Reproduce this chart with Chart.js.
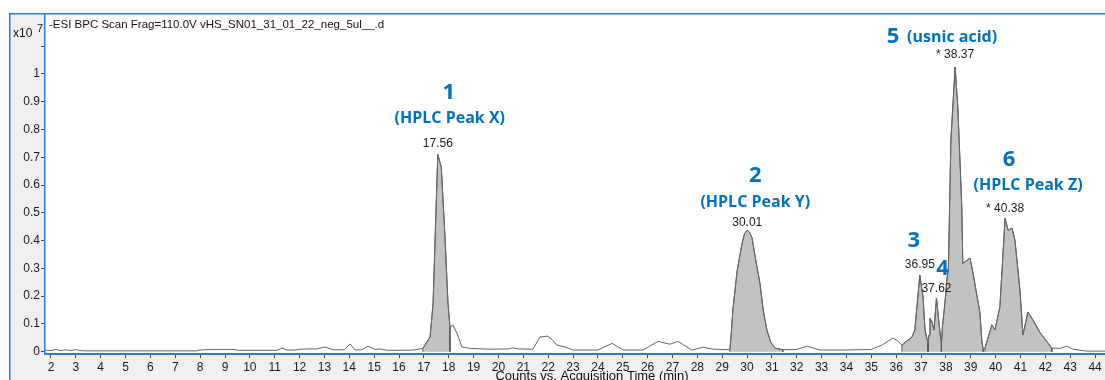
<!DOCTYPE html>
<html>
<head>
<meta charset="utf-8">
<script src="https://cdn.jsdelivr.net/npm/chart.js@4.4.1/dist/chart.umd.min.js"></script>
<style>
  html, body { margin: 0; padding: 0; background: #fff; }
  canvas { display: block; }
</style>
</head>
<body>
<canvas id="bpcChart" width="1105" height="380"></canvas>
<script>
// BPC trace: retention time (min) and counts (x10^7)
const retentionTimes = [
  1.76, 2.0, 2.2, 2.4, 2.6, 2.8, 3.0, 3.15, 3.5, 7.87,
  7.95, 8.48, 9.4, 9.5, 11.1, 11.29, 11.49, 11.8, 12.02, 12.4,
  12.7, 13.02, 13.34, 13.8, 14.03, 14.23, 14.5, 14.75, 15.03, 15.23,
  15.5, 16.04, 16.6, 16.96, 17.25, 17.37, 17.56, 17.7, 17.85, 17.97,
  18.05, 18.17, 18.33, 18.53, 18.85, 19.66, 20.4, 20.58, 20.8, 21.39,
  21.67, 21.99, 22.15, 22.35, 22.68, 23.0, 24.0, 24.57, 25.01, 25.81,
  26.42, 26.9, 27.22, 27.78, 28.23, 28.63, 29.31, 29.37, 29.43, 29.6,
  29.8, 29.9, 30.01, 30.1, 30.2, 30.35, 30.52, 30.65, 30.8, 30.95,
  31.12, 31.44, 32.0, 32.41, 32.93, 34.0, 35.0, 35.43, 35.87, 36.05,
  36.23, 36.45, 36.63, 36.75, 36.95, 37.08, 37.16, 37.28, 37.32, 37.36,
  37.44, 37.52, 37.62, 37.76, 37.82, 37.86, 37.96, 38.04, 38.1, 38.2,
  38.37, 38.48, 38.64, 38.68, 38.97, 39.09, 39.37, 39.45, 39.5, 39.57,
  39.85, 39.97, 40.17, 40.38, 40.5, 40.66, 40.78, 40.98, 41.1, 41.3,
  41.5, 41.78, 42.26, 42.6, 42.87, 43.11, 43.67, 44.4
];
const bpcCounts = [
  0.006, 0.004, 0.008, 0.004, 0.007, 0.004, 0.008, 0.004, 0.003, 0.003,
  0.006, 0.008, 0.008, 0.005, 0.005, 0.013, 0.006, 0.006, 0.009, 0.010,
  0.010, 0.017, 0.007, 0.007, 0.028, 0.006, 0.007, 0.020, 0.008, 0.010,
  0.005, 0.005, 0.006, 0.012, 0.053, 0.174, 0.710, 0.665, 0.412, 0.174,
  0.088, 0.096, 0.067, 0.017, 0.012, 0.009, 0.010, 0.014, 0.010, 0.009,
  0.053, 0.056, 0.044, 0.024, 0.017, 0.006, 0.006, 0.030, 0.006, 0.006,
  0.037, 0.027, 0.037, 0.006, 0.016, 0.009, 0.007, 0.070, 0.150, 0.290,
  0.390, 0.425, 0.437, 0.430, 0.410, 0.330, 0.246, 0.150, 0.078, 0.035,
  0.013, 0.007, 0.008, 0.020, 0.006, 0.006, 0.008, 0.024, 0.049, 0.040,
  0.024, 0.040, 0.052, 0.078, 0.276, 0.197, 0.078, 0.030, 0.060, 0.120,
  0.108, 0.078, 0.193, 0.070, 0.030, 0.090, 0.174, 0.260, 0.300, 0.760,
  1.025, 0.880, 0.520, 0.318, 0.337, 0.283, 0.140, 0.032, 0.010, 0.012,
  0.097, 0.078, 0.160, 0.480, 0.437, 0.445, 0.400, 0.220, 0.060, 0.143,
  0.114, 0.070, 0.013, 0.012, 0.020, 0.009, 0.002, 0.002
];

// integrated (shaded) windows, min
const integrationStarts = [16.96, 29.31, 36.23, 37.28, 37.82, 39.57];
const integrationEnds   = [18.05, 31.44, 37.28, 37.82, 39.5, 42.26];

// labelled peaks
const peakTimes = [17.56, 30.01, 36.95, 37.62, 38.37, 40.38];
const peakLabels = ['17.56', '30.01', '36.95', '37.62', '* 38.37', '* 40.38'];
const compoundNumbers = ['1', '2', '3', '4', '5', '6'];
const compoundNames = ['(HPLC Peak X)', '(HPLC Peak Y)', '', '', '(usnic acid)', '(HPLC Peak Z)'];

// axes
const xTickValues = [2, 3, 4, 5, 6, 7, 8, 9, 10, 11, 12, 13, 14, 15, 16, 17, 18, 19, 20, 21, 22,
  23, 24, 25, 26, 27, 28, 29, 30, 31, 32, 33, 34, 35, 36, 37, 38, 39, 40, 41, 42, 43, 44];
const yTickValues = [0, 0.1, 0.2, 0.3, 0.4, 0.5, 0.6, 0.7, 0.8, 0.9, 1, 1.1];
const yTickLabels = ['0', '0.1', '0.2', '0.3', '0.4', '0.5', '0.6', '0.7', '0.8', '0.9', '1', ''];

const headerText = '-ESI BPC Scan Frag=110.0V vHS_SN01_31_01_22_neg_5ul__.d';
const xAxisTitle = 'Counts vs. Acquisition Time (min)';

const tracePoints = retentionTimes.map((t, i) => ({ x: t, y: bpcCounts[i] }));

// shaded areas: trace points inside each window, dropped to zero at the edges
const fillPoints = [];
integrationStarts.forEach((start, k) => {
  const end = integrationEnds[k];
  fillPoints.push({ x: start, y: 0 });
  tracePoints.forEach(p => { if (p.x >= start && p.x <= end) fillPoints.push(p); });
  fillPoints.push({ x: end, y: 0 });
  fillPoints.push({ x: end, y: null });
});

const BLUE = '#0070c0';
const FRAME = '#2f7bd6';
const SANS = '"Liberation Sans", Arial, sans-serif';
const LABEL_FONT = '"Open Sans", Lato, sans-serif';

// pixel offsets from each apex: rt label dy, number dx/dy, name dx/dy
const labelOffsets = [
  [-11, 11, -62, 12, -36],
  [-8, 8, -55, 8, -28],
  [-10, -6, -34, 0, 0],
  [-9, 6, -29, 0, 0],
  [-12, -62, -30, -3, -30],
  [-10, 4, -59, 23, -33]
];

const chromPlugin = {
  id: 'chromFrame',
  beforeDraw(chart) {
    const { ctx, chartArea: a, width, height } = chart;
    ctx.save();
    ctx.fillStyle = '#ffffff';
    ctx.fillRect(0, 0, width, height);
    ctx.fillStyle = '#f0f0f0';
    ctx.fillRect(10, a.top, a.left - 10, height - a.top);
    ctx.fillRect(10, a.bottom, width - 10, height - a.bottom);
    ctx.restore();
  },
  afterDatasetsDraw(chart) {
    const { ctx } = chart;
    const xs = chart.scales.x, ys = chart.scales.y;
    ctx.save();
    ctx.textAlign = 'center';
    ctx.textBaseline = 'middle';
    peakTimes.forEach((t, i) => {
      const idx = retentionTimes.indexOf(t);
      const px = xs.getPixelForValue(t);
      const py = ys.getPixelForValue(bpcCounts[idx]);
      const o = labelOffsets[i];
      ctx.fillStyle = '#1a1a1a';
      ctx.font = '12px ' + SANS;
      ctx.fillText(peakLabels[i], px, py + o[0]);
      ctx.fillStyle = BLUE;
      ctx.font = 'bold 22px ' + LABEL_FONT;
      ctx.fillText(compoundNumbers[i], px + o[1], py + o[2]);
      if (compoundNames[i]) {
        ctx.font = 'bold 16px ' + LABEL_FONT;
        ctx.fillText(compoundNames[i], px + o[3], py + o[4]);
      }
    });
    ctx.restore();
  },
  afterDraw(chart) {
    const { ctx, chartArea: a, width, height } = chart;
    ctx.save();
    ctx.fillStyle = FRAME;
    ctx.fillRect(10, a.top - 1, width - 10, 1.5);
    ctx.fillRect(9, a.top - 1, 1.5, height - a.top + 1);
    ctx.fillRect(a.left - 1, a.top - 1, 1.5, a.bottom - a.top + 2);
    ctx.fillRect(a.left - 1, a.bottom - 1, width - a.left + 1, 2);

    ctx.fillStyle = '#111';
    ctx.font = '11.5px ' + SANS;
    ctx.textAlign = 'left';
    ctx.textBaseline = 'middle';
    ctx.fillText(headerText, 49, 25);
    ctx.font = '12px ' + SANS;
    ctx.fillText('x10', 13, 34);
    ctx.font = '11px ' + SANS;
    ctx.fillText('7', 37, 29);

    ctx.font = '13px ' + SANS;
    ctx.textAlign = 'center';
    ctx.textBaseline = 'top';
    ctx.fillText(xAxisTitle, 592, 370);
    ctx.restore();
  }
};

Chart.defaults.font.family = SANS;
Chart.defaults.font.size = 12;
Chart.defaults.color = '#1a1a1a';

new Chart(document.getElementById('bpcChart'), {
  type: 'line',
  data: {
    datasets: [{
      data: tracePoints,
      borderColor: '#666666',
      borderWidth: 1,
      pointRadius: 0,
      fill: false,
      tension: 0
    }, {
      data: fillPoints,
      borderColor: '#555555',
      borderWidth: 1,
      backgroundColor: '#c2c2c2',
      pointRadius: 0,
      fill: 'origin',
      spanGaps: false,
      tension: 0
    }]
  },
  plugins: [chromPlugin],
  options: {
    responsive: false,
    animation: false,
    events: [],
    layout: { padding: { left: 10, top: 14, right: 0, bottom: 0 }, autoPadding: false },
    plugins: { legend: { display: false }, tooltip: { enabled: false } },
    scales: {
      x: {
        type: 'linear',
        min: 1.759,
        max: 44.4,
        afterFit: s => { s.height = 26; },
        afterBuildTicks: s => { s.ticks = xTickValues.map(v => ({ value: v })); },
        border: { display: false },
        grid: { drawOnChartArea: false, tickLength: 4, color: '#444' },
        ticks: { autoSkip: false, maxRotation: 0, padding: 2, color: '#1a1a1a',
                 callback: v => String(v) }
      },
      y: {
        type: 'linear',
        min: -0.0083,
        max: 1.2157,
        afterFit: s => { s.width = 35; },
        afterBuildTicks: s => { s.ticks = yTickValues.map(v => ({ value: v })); },
        border: { display: false },
        grid: { drawOnChartArea: false, tickLength: 4, color: '#444' },
        ticks: { padding: 1, color: '#1a1a1a',
                 callback: (v, i) => yTickLabels[i] }
      }
    }
  }
});
</script>
</body>
</html>
